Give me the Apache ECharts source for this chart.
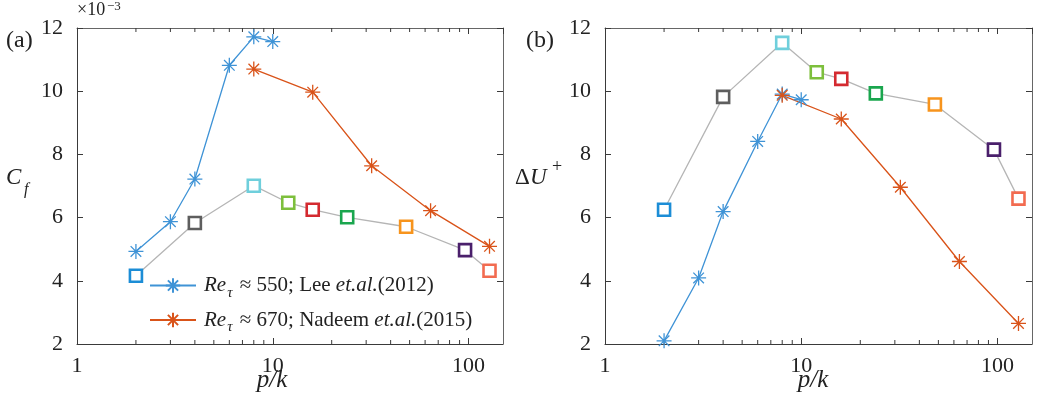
<!DOCTYPE html>
<html>
<head>
<meta charset="utf-8">
<script src="https://cdn.jsdelivr.net/npm/echarts@6/dist/echarts.min.js"></script>
<style>html,body{margin:0;padding:0;background:#fff;}#c{width:1037px;height:400px;}</style>
</head>
<body>
<div id="c"></div>
<script>
// ---- data ----
const pkLee = [2, 3, 4, 6, 8, 10];
const pkNadeem = [8, 16, 32, 64, 128];
const pkSq = [2, 4, 8, 12, 16, 24, 48, 96, 128];
const cfLee = [4.93, 5.87, 7.22, 10.82, 11.72, 11.57];
const cfNadeem = [10.70, 9.97, 7.64, 6.22, 5.09];
const cfSq = [4.16, 5.83, 7.01, 6.47, 6.25, 6.01, 5.71, 4.97, 4.32];
const duLee = [2.10, 4.09, 6.19, 8.41, 9.91, 9.73];
const duNadeem = [9.87, 9.12, 6.96, 4.61, 2.65];
const duSq = [6.25, 9.82, 11.53, 10.60, 10.39, 9.93, 9.58, 8.15, 6.60];
const squareColors = ['#1c8dd6', '#5e5e5e', '#6fcfdc', '#7dbf3c', '#d42a30', '#1aa64e', '#f7941d', '#4a1f6b', '#f26b50'];
const xMinor = [2, 3, 4, 5, 6, 7, 8, 9, 20, 30, 40, 50, 60, 70, 80, 90];
const xLabels = [1, 10, 100];
const nameLee = 'lee';
const nameNadeem = 'nadeem';

// ---- style ----
const SERIF = '"Liberation Serif", "DejaVu Serif", serif';
const axisColor = '#3a3a3a';
const txt = '#222222';
const blue = '#3f93d6';
const orange = '#d95319';
const star = 'path://M0,-10 L0,10 M-10,0 L10,0 M-7.07,-7.07 L7.07,7.07 M-7.07,7.07 L7.07,-7.07';
const X_MIN = 1, X_MAX = 150, Y_MIN = 2, Y_MAX = 12;

const chart = echarts.init(document.getElementById('c'), null, {renderer: 'canvas'});

function xAxisPair(gridIndex) {
  return [
    {
      type: 'log', logBase: 10, gridIndex, min: X_MIN, max: X_MAX, position: 'bottom',
      axisLine: {show: true, lineStyle: {color: axisColor, width: 1}},
      axisTick: {show: true, inside: true, length: 6, lineStyle: {color: axisColor}},
      axisLabel: {show: true, color: txt, fontFamily: SERIF, fontSize: 22, margin: 11,
        showMaxLabel: false,
        formatter: v => { const r = Math.round(v); return xLabels.indexOf(r) >= 0 ? String(r) : ''; }},
      splitLine: {show: false}
    },
    {
      type: 'log', logBase: 10, gridIndex, min: X_MIN, max: X_MAX, position: 'top',
      axisLine: {show: true, lineStyle: {color: '#666', width: 1}},
      axisTick: {show: true, inside: true, length: 6, lineStyle: {color: axisColor}},
      axisLabel: {show: false},
      splitLine: {show: false}
    }
  ];
}
function yAxisPair(gridIndex) {
  return [
    {
      type: 'value', gridIndex, min: Y_MIN, max: Y_MAX, interval: 2, position: 'left',
      axisLine: {show: true, lineStyle: {color: axisColor, width: 1}},
      axisTick: {show: true, inside: true, length: 6, lineStyle: {color: axisColor}},
      axisLabel: {show: true, color: txt, fontFamily: SERIF, fontSize: 22, margin: 14},
      splitLine: {show: false}
    },
    {
      type: 'value', gridIndex, min: Y_MIN, max: Y_MAX, interval: 2, position: 'right',
      axisLine: {show: true, lineStyle: {color: '#666', width: 1}},
      axisTick: {show: true, inside: true, length: 6, lineStyle: {color: axisColor}},
      axisLabel: {show: false},
      splitLine: {show: false}
    }
  ];
}

function zip(xs, ys) { return xs.map((x, i) => [x, ys[i]]); }

function starSeries(name, xs, ys, color, xi, yi) {
  return {
    name, type: 'line', xAxisIndex: xi, yAxisIndex: yi,
    data: zip(xs, ys),
    symbol: star, symbolSize: 15, showSymbol: true,
    lineStyle: {color, width: 1.3},
    itemStyle: {color: 'none', borderColor: color, borderWidth: 1.3},
    emphasis: {disabled: true}, animation: false, z: 3
  };
}
function squareSeries(xs, ys, xi, yi) {
  return {
    name: 'squares', type: 'line', xAxisIndex: xi, yAxisIndex: yi,
    data: xs.map((x, i) => ({value: [x, ys[i]], itemStyle: {borderColor: squareColors[i]}})),
    symbol: 'rect', symbolSize: 12, showSymbol: true,
    lineStyle: {color: '#b5b5b5', width: 1.3},
    itemStyle: {color: '#ffffff', borderWidth: 2.6},
    emphasis: {disabled: true}, animation: false, z: 2
  };
}
function minorTickSeries(xi, yi) {
  return {
    type: 'custom', xAxisIndex: xi, yAxisIndex: yi, silent: true, animation: false, z: 1,
    data: xMinor.map(v => [v, Y_MIN]),
    renderItem: (params, api) => {
      const x = api.value(0);
      const b = api.coord([x, Y_MIN]);
      const t = api.coord([x, Y_MAX]);
      return {type: 'group', children: [
        {type: 'line', shape: {x1: b[0], y1: b[1], x2: b[0], y2: b[1] - 4}, style: {stroke: axisColor, lineWidth: 1}},
        {type: 'line', shape: {x1: t[0], y1: t[1], x2: t[0], y2: t[1] + 4}, style: {stroke: axisColor, lineWidth: 1}}
      ]};
    }
  };
}

const rich = {
  n: {fontFamily: SERIF, fontSize: 21, color: txt, lineHeight: 30},
  g: {fontFamily: SERIF, fontSize: 21, color: txt, lineHeight: 30, padding: [0, 0, 0, 3]},
  i: {fontFamily: SERIF, fontSize: 21, fontStyle: 'italic', color: txt, lineHeight: 30},
  sub: {fontFamily: SERIF, fontSize: 15, fontStyle: 'italic', color: txt, lineHeight: 15, verticalAlign: 'bottom', padding: [0, 2, 0, 1]}
};

function T(left, top, text, font) {
  return {type: 'text', left, top, style: {text, font: font + ' ' + SERIF, fill: txt}};
}

const option = {
  backgroundColor: '#ffffff',
  animation: false,
  grid: [
    {left: 77, right: 534, top: 28, bottom: 56, containLabel: false},
    {left: 605, right: 5, top: 28, bottom: 56, containLabel: false}
  ],
  xAxis: [...xAxisPair(0), ...xAxisPair(1)],
  yAxis: [...yAxisPair(0), ...yAxisPair(1)],
  legend: {
    show: true, orient: 'vertical', left: 144, top: 270,
    itemWidth: 46, itemHeight: 18, itemGap: 9,
    data: [nameLee, nameNadeem],
    formatter: n => n === nameLee
      ? '{g|}{i|Re}{sub|τ}{n| ≈ 550; Lee }{i|et.al.}{n|(2012)}'
      : '{g|}{i|Re}{sub|τ}{n| ≈ 670; Nadeem }{i|et.al.}{n|(2015)}',
    textStyle: {rich},
    selectedMode: false
  },
  series: [
    minorTickSeries(0, 0),
    minorTickSeries(2, 2),
    squareSeries(pkSq, cfSq, 0, 0),
    starSeries(nameLee, pkLee, cfLee, blue, 0, 0),
    starSeries(nameNadeem, pkNadeem, cfNadeem, orange, 0, 0),
    squareSeries(pkSq, duSq, 2, 2),
    starSeries(nameLee, pkLee, duLee, blue, 2, 2),
    starSeries(nameNadeem, pkNadeem, duNadeem, orange, 2, 2)
  ],
  graphic: [
    T(6, 29, '(a)', '24px'),
    T(526, 29, '(b)', '24px'),
    T(77, 1, '×10', '18px'),
    T(107, 0, '−3', '13px'),
    T(6, 166, 'C', 'italic 23px'),
    T(24, 182, 'f', 'italic 16px'),
    T(515, 166, 'Δ', '23px'),
    T(530, 166, 'U', 'italic 23px'),
    T(552, 158, '+', '18px'),
    {type: 'text', x: 272, y: 368, style: {text: 'p/k', font: 'italic 25px ' + SERIF, fill: txt, align: 'center'}},
    {type: 'text', x: 813, y: 368, style: {text: 'p/k', font: 'italic 25px ' + SERIF, fill: txt, align: 'center'}}
  ]
};
chart.setOption(option);
</script>
</body>
</html>
